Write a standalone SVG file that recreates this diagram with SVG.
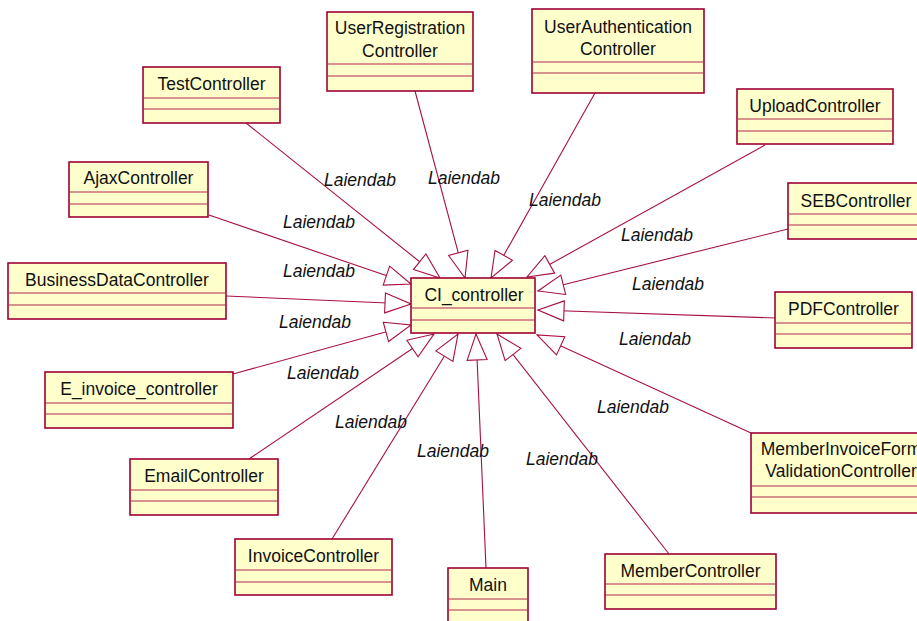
<svg xmlns="http://www.w3.org/2000/svg" width="917" height="621" viewBox="0 0 917 621">
  <defs>
    <style>
      .box { fill: #ffffcc; stroke: #9e0035; stroke-width: 1.6; }
      .div { stroke: #b0264f; stroke-width: 1.1; }
      .name { font-family: "Liberation Sans", Arial, sans-serif; font-size: 17.5px; fill: #111; text-anchor: middle; }
      .lbl { font-family: "Liberation Sans", Arial, sans-serif; font-size: 17.5px; font-style: italic; fill: #111; }
      .edge { stroke: #a8103f; stroke-width: 1.1; fill: none; marker-end: url(#gen); }
    </style>
    <!-- hollow generalization triangle -->
    <marker id="gen" markerUnits="userSpaceOnUse" markerWidth="28" markerHeight="22" viewBox="-1 -11 28 22" refX="26" refY="0" orient="auto">
      <path d="M0,-10 L26,0 L0,10 Z" fill="#ffffff" stroke="#a8103f" stroke-width="1.1"/>
    </marker>
  </defs>

  <rect width="917" height="621" fill="#ffffff"/>

  <g id="connectors">
    <line class="edge" x1="246" y1="123" x2="440" y2="278"/>
    <line class="edge" x1="415" y1="91" x2="465" y2="278"/>
    <line class="edge" x1="595" y1="93" x2="491" y2="278"/>
    <line class="edge" x1="765" y1="145" x2="527" y2="277"/>
    <line class="edge" x1="788" y1="229" x2="538" y2="291"/>
    <line class="edge" x1="775" y1="318" x2="538" y2="310"/>
    <line class="edge" x1="751" y1="433" x2="537" y2="335"/>
    <line class="edge" x1="669" y1="554" x2="497" y2="334"/>
    <line class="edge" x1="486" y1="568" x2="476" y2="334"/>
    <line class="edge" x1="332" y1="539" x2="458" y2="334"/>
    <line class="edge" x1="249" y1="459" x2="434" y2="334"/>
    <line class="edge" x1="233" y1="374" x2="411" y2="325"/>
    <line class="edge" x1="226" y1="296" x2="411" y2="304"/>
    <line class="edge" x1="209" y1="215" x2="411" y2="284"/>

    <text class="lbl" x="324" y="186">Laiendab</text>
    <text class="lbl" x="428" y="184">Laiendab</text>
    <text class="lbl" x="529" y="206">Laiendab</text>
    <text class="lbl" x="621" y="241">Laiendab</text>
    <text class="lbl" x="632" y="290">Laiendab</text>
    <text class="lbl" x="619" y="345">Laiendab</text>
    <text class="lbl" x="597" y="413">Laiendab</text>
    <text class="lbl" x="526" y="465">Laiendab</text>
    <text class="lbl" x="417" y="457">Laiendab</text>
    <text class="lbl" x="335" y="428">Laiendab</text>
    <text class="lbl" x="287" y="379">Laiendab</text>
    <text class="lbl" x="279" y="328">Laiendab</text>
    <text class="lbl" x="283" y="277">Laiendab</text>
    <text class="lbl" x="283" y="228">Laiendab</text>
  </g>

  <g id="CI_controller">
    <rect class="box" x="411" y="278" width="124" height="55"/>
    <line class="div" x1="411" y1="308" x2="535" y2="308"/>
    <line class="div" x1="411" y1="320" x2="535" y2="320"/>
    <text class="name" x="474" y="301">CI_controller</text>
  </g>

  <g id="TestController">
    <rect class="box" x="143" y="67" width="137" height="56"/>
    <line class="div" x1="143" y1="98" x2="280" y2="98"/>
    <line class="div" x1="143" y1="109" x2="280" y2="109"/>
    <text class="name" x="211.5" y="90">TestController</text>
  </g>

  <g id="UserRegistrationController">
    <rect class="box" x="327" y="12" width="146" height="79"/>
    <line class="div" x1="327" y1="64" x2="473" y2="64"/>
    <line class="div" x1="327" y1="76" x2="473" y2="76"/>
    <text class="name" x="400" y="34">UserRegistration</text>
    <text class="name" x="400" y="56.5">Controller</text>
  </g>

  <g id="UserAuthenticationController">
    <rect class="box" x="532" y="9" width="172" height="84"/>
    <line class="div" x1="532" y1="62" x2="704" y2="62"/>
    <line class="div" x1="532" y1="73" x2="704" y2="73"/>
    <text class="name" x="618" y="32.5">UserAuthentication</text>
    <text class="name" x="618" y="54.5">Controller</text>
  </g>

  <g id="UploadController">
    <rect class="box" x="737" y="89" width="156" height="55"/>
    <line class="div" x1="737" y1="119" x2="893" y2="119"/>
    <line class="div" x1="737" y1="131" x2="893" y2="131"/>
    <text class="name" x="815" y="112">UploadController</text>
  </g>

  <g id="SEBController">
    <rect class="box" x="788" y="183" width="136" height="56"/>
    <line class="div" x1="788" y1="214" x2="924" y2="214"/>
    <line class="div" x1="788" y1="225" x2="924" y2="225"/>
    <text class="name" x="856" y="206.5">SEBController</text>
  </g>

  <g id="PDFController">
    <rect class="box" x="775" y="292" width="137" height="56"/>
    <line class="div" x1="775" y1="323" x2="912" y2="323"/>
    <line class="div" x1="775" y1="334" x2="912" y2="334"/>
    <text class="name" x="843.5" y="315">PDFController</text>
  </g>

  <g id="MemberInvoiceFormValidationController">
    <rect class="box" x="751" y="433" width="180" height="80"/>
    <line class="div" x1="751" y1="486" x2="931" y2="486"/>
    <line class="div" x1="751" y1="497" x2="931" y2="497"/>
    <text class="name" x="841" y="455">MemberInvoiceForm</text>
    <text class="name" x="841" y="477">ValidationController</text>
  </g>

  <g id="MemberController">
    <rect class="box" x="605" y="554" width="171" height="55"/>
    <line class="div" x1="605" y1="584" x2="776" y2="584"/>
    <line class="div" x1="605" y1="595" x2="776" y2="595"/>
    <text class="name" x="690.5" y="577">MemberController</text>
  </g>

  <g id="Main">
    <rect class="box" x="448" y="568" width="80" height="56"/>
    <line class="div" x1="448" y1="599" x2="528" y2="599"/>
    <line class="div" x1="448" y1="610" x2="528" y2="610"/>
    <text class="name" x="488" y="591">Main</text>
  </g>

  <g id="InvoiceController">
    <rect class="box" x="235" y="539" width="157" height="56"/>
    <line class="div" x1="235" y1="570" x2="392" y2="570"/>
    <line class="div" x1="235" y1="582" x2="392" y2="582"/>
    <text class="name" x="313.5" y="562">InvoiceController</text>
  </g>

  <g id="EmailController">
    <rect class="box" x="130" y="459" width="148" height="56"/>
    <line class="div" x1="130" y1="490" x2="278" y2="490"/>
    <line class="div" x1="130" y1="501" x2="278" y2="501"/>
    <text class="name" x="204" y="482">EmailController</text>
  </g>

  <g id="E_invoice_controller">
    <rect class="box" x="45" y="372" width="188" height="56"/>
    <line class="div" x1="45" y1="403" x2="233" y2="403"/>
    <line class="div" x1="45" y1="414" x2="233" y2="414"/>
    <text class="name" x="139" y="395">E_invoice_controller</text>
  </g>

  <g id="BusinessDataController">
    <rect class="box" x="8" y="263" width="218" height="56"/>
    <line class="div" x1="8" y1="293" x2="226" y2="293"/>
    <line class="div" x1="8" y1="305" x2="226" y2="305"/>
    <text class="name" x="117" y="286">BusinessDataController</text>
  </g>

  <g id="AjaxController">
    <rect class="box" x="69" y="162" width="139" height="55"/>
    <line class="div" x1="69" y1="192" x2="208" y2="192"/>
    <line class="div" x1="69" y1="204" x2="208" y2="204"/>
    <text class="name" x="138.5" y="184">AjaxController</text>
  </g>
</svg>
